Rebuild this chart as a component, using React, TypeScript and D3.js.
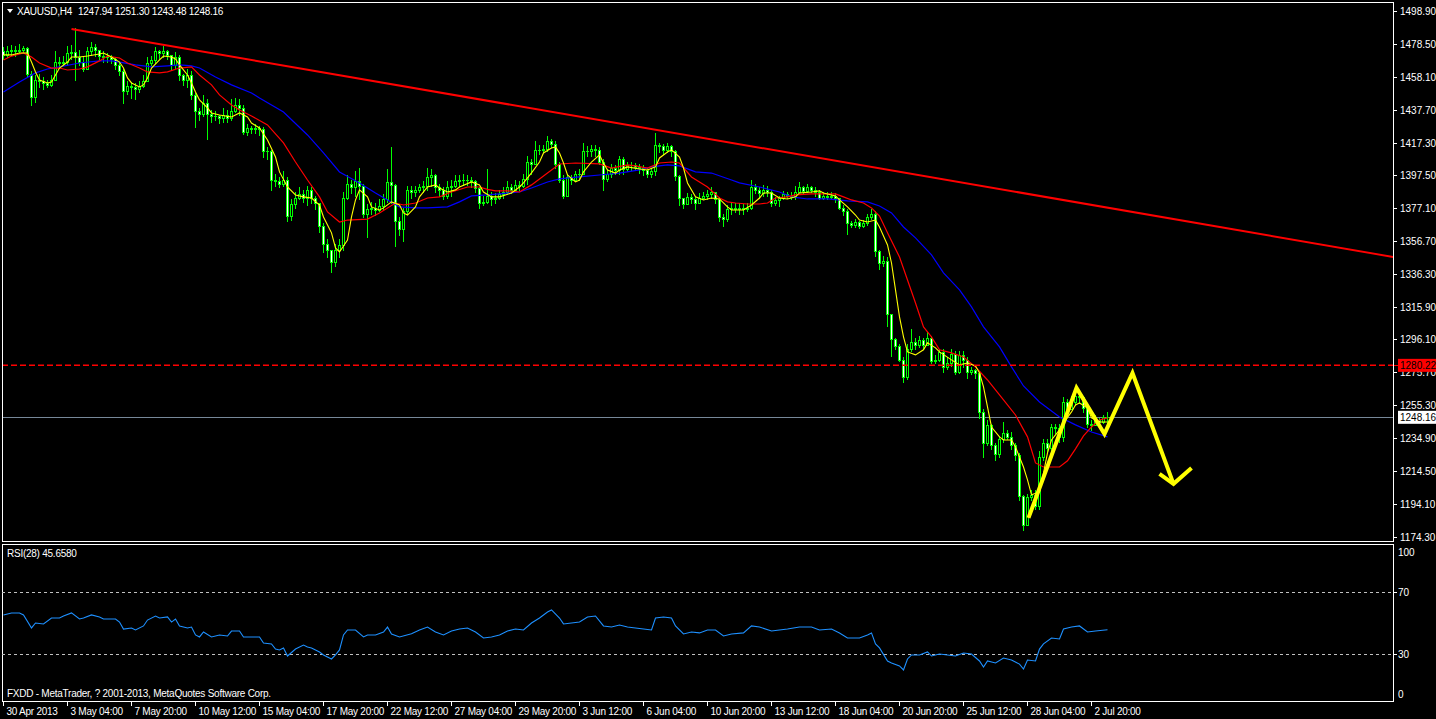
import React from "react";
import * as d3 from "d3";

const W = 1436;
const H = 719;

const symbolTitle = "XAUUSD,H4";
const ohlcTitle = ["1247.94", "1251.30", "1243.48", "1248.16"];
const firstOpen = 1473.6;

const closes = [
1471.7,1473.6,1474.8,1473.6,1474.8,1475.5,1460.0,1445.8,1456.3,1455.1,
1453.9,1453.2,1456.3,1467.4,1466.8,1467.4,1472.4,1473.0,1469.9,1467.4,
1462.5,1473.6,1476.1,1474.8,1471.1,1470.5,1469.9,1468.7,1465.0,1461.3,
1449.5,1452.6,1451.4,1450.2,1452.6,1455.7,1466.8,1468.1,1473.6,1472.4,
1473.6,1471.7,1465.0,1469.9,1458.8,1456.3,1459.4,1446.5,1436.6,1435.3,
1442.1,1435.3,1433.5,1434.1,1432.3,1434.7,1432.3,1436.6,1440.3,1439.0,
1424.2,1426.1,1425.5,1426.1,1425.5,1411.9,1411.9,1394.6,1393.4,1392.1,
1394.6,1371.8,1379.2,1383.5,1385.4,1383.5,1388.4,1383.5,1379.8,1366.2,
1354.5,1351.4,1344.0,1351.4,1353.9,1383.5,1392.1,1389.7,1393.4,1390.9,
1373.6,1376.1,1377.3,1375.5,1378.0,1382.3,1392.8,1391.5,1369.3,1363.8,
1374.9,1388.4,1386.6,1388.4,1389.7,1390.3,1395.9,1397.1,1389.7,1388.4,
1384.7,1389.7,1390.9,1393.4,1394.0,1394.6,1394.0,1393.4,1389.1,1379.8,
1381.0,1384.7,1382.3,1383.5,1385.4,1386.6,1389.7,1388.4,1391.5,1390.9,
1395.2,1405.7,1403.9,1413.1,1413.1,1413.7,1418.1,1416.8,1403.9,1394.6,
1384.7,1395.9,1394.0,1397.7,1398.3,1411.9,1412.5,1413.7,1413.1,1405.7,
1395.2,1397.7,1401.4,1400.2,1407.0,1400.8,1403.3,1403.3,1402.6,1401.4,
1400.2,1398.3,1399.6,1415.6,1415.0,1413.1,1415.0,1411.9,1396.5,1382.9,
1379.2,1384.1,1382.3,1379.8,1383.5,1384.7,1385.4,1386.6,1382.3,1371.2,
1370.5,1376.1,1377.3,1376.7,1377.3,1376.1,1377.3,1389.7,1388.4,1386.0,
1388.4,1387.2,1379.8,1381.7,1382.9,1385.4,1384.7,1384.1,1386.6,1389.7,
1387.8,1389.7,1388.4,1387.2,1383.5,1384.7,1384.1,1384.7,1382.9,1377.3,
1374.9,1367.5,1366.8,1368.1,1366.2,1367.5,1371.2,1373.6,1350.2,1342.8,
1344.6,1311.3,1295.9,1291.6,1283.5,1273.0,1289.7,1294.6,1292.2,1295.3,
1292.2,1297.1,1282.9,1283.5,1287.9,1278.6,1281.1,1287.2,1276.1,1286.0,
1283.5,1276.1,1276.8,1274.9,1251.4,1232.3,1242.8,1230.5,1225.5,1234.2,
1237.9,1236.0,1230.5,1224.9,1199.0,1181.7,1198.4,1200.2,1193.4,1223.1,
1231.7,1229.2,1241.6,1241.0,1235.4,1257.6,1252.7,1257.0,1261.3,1260.1,
1253.3,1244.0,1242.8,1245.9,1244.7,1247.94,1248.16
];

const highs = [
1476.1,1477.3,1477.9,1477.3,1478.5,1477.3,1476.1,1461.3,1458.8,1460.0,
1457.6,1456.3,1458.8,1473.6,1469.9,1471.1,1477.3,1477.9,1487.8,1474.8,
1469.9,1476.1,1479.2,1478.5,1474.8,1473.6,1472.4,1471.7,1469.3,1466.2,
1462.5,1455.1,1454.5,1453.9,1455.1,1458.8,1469.9,1471.1,1476.1,1474.8,
1476.7,1474.8,1471.7,1473.0,1471.7,1460.0,1462.5,1461.3,1447.7,1439.0,
1446.5,1444.0,1437.8,1436.6,1434.7,1439.0,1437.8,1444.0,1445.2,1444.0,
1440.3,1428.6,1427.9,1428.6,1427.9,1426.7,1414.4,1413.1,1397.7,1395.9,
1399.6,1395.9,1382.3,1387.2,1389.7,1388.4,1390.9,1389.7,1384.7,1379.8,
1367.5,1357.6,1351.4,1354.5,1357.6,1387.2,1397.1,1394.6,1399.6,1402.0,
1392.1,1379.2,1381.0,1379.8,1382.3,1385.4,1400.8,1414.4,1392.1,1371.2,
1377.3,1390.9,1390.3,1390.9,1392.1,1393.4,1402.0,1400.8,1398.3,1392.1,
1389.7,1393.4,1394.6,1397.1,1397.1,1397.7,1397.1,1395.9,1394.6,1389.7,
1384.7,1400.8,1387.2,1386.0,1388.4,1389.7,1393.4,1392.1,1394.6,1393.4,
1397.7,1409.4,1407.0,1418.1,1415.6,1416.2,1421.2,1419.3,1418.1,1405.1,
1397.1,1397.7,1397.1,1399.6,1400.8,1417.4,1415.0,1416.2,1415.6,1414.4,
1407.0,1400.8,1403.9,1403.3,1409.4,1408.8,1405.1,1405.7,1404.5,1403.9,
1403.3,1402.0,1402.0,1423.6,1417.4,1416.8,1417.4,1415.6,1413.1,1397.1,
1383.5,1386.0,1385.4,1384.1,1386.0,1387.2,1388.4,1389.7,1387.2,1384.1,
1373.6,1378.6,1379.8,1379.8,1380.4,1379.2,1379.8,1394.6,1392.1,1389.7,
1391.5,1390.9,1388.4,1384.1,1384.7,1387.8,1387.2,1386.6,1390.9,1392.8,
1390.9,1392.1,1390.9,1389.7,1388.4,1386.6,1386.6,1386.6,1386.0,1383.5,
1378.6,1376.1,1369.3,1370.5,1369.3,1369.9,1373.6,1376.1,1374.9,1351.4,
1347.7,1346.5,1311.9,1297.1,1292.8,1284.8,1292.8,1302.1,1297.1,1298.3,
1297.1,1300.8,1298.3,1286.0,1290.3,1289.7,1284.8,1289.7,1288.5,1288.5,
1288.5,1284.8,1278.6,1277.4,1276.1,1252.7,1246.5,1244.0,1231.7,1236.6,
1244.7,1240.3,1238.5,1231.7,1226.1,1200.2,1200.8,1203.3,1203.3,1226.8,
1234.2,1234.2,1244.0,1244.0,1244.0,1260.1,1258.9,1260.7,1263.8,1263.8,
1261.3,1255.2,1246.5,1249.0,1247.7,1249.0,1251.30
];

const lows = [
1468.7,1470.5,1471.7,1471.1,1472.4,1473.0,1457.6,1440.3,1442.7,1451.4,
1450.2,1451.4,1452.6,1456.3,1463.7,1465.0,1465.6,1468.7,1456.3,1465.0,
1461.3,1463.7,1471.7,1471.1,1468.7,1467.4,1467.4,1466.2,1462.5,1458.8,
1442.1,1447.1,1445.2,1444.0,1448.9,1451.4,1455.1,1465.0,1466.2,1468.7,
1469.9,1468.7,1462.5,1463.7,1456.3,1453.2,1451.4,1444.0,1426.7,1431.6,
1434.1,1419.3,1430.4,1431.6,1429.2,1430.4,1429.8,1431.6,1436.0,1434.7,
1422.4,1421.8,1423.0,1423.6,1421.8,1408.2,1407.0,1388.4,1390.3,1389.7,
1390.3,1368.7,1369.9,1377.3,1382.3,1381.0,1378.6,1379.8,1376.1,1362.5,
1349.6,1346.5,1337.8,1341.5,1346.5,1351.4,1382.3,1386.0,1384.7,1382.3,
1371.2,1359.4,1373.6,1372.4,1374.9,1376.1,1381.0,1379.8,1353.3,1360.1,
1356.4,1373.6,1383.5,1384.7,1386.6,1387.2,1388.4,1390.9,1387.2,1384.7,
1382.3,1383.5,1384.7,1389.7,1390.9,1391.5,1391.5,1389.7,1387.2,1377.3,
1378.6,1380.4,1378.6,1379.8,1382.3,1383.5,1385.4,1386.0,1388.4,1388.4,
1389.7,1392.1,1398.3,1405.1,1410.6,1411.3,1411.9,1414.4,1402.0,1392.8,
1383.5,1388.4,1392.1,1393.4,1394.6,1400.8,1409.4,1409.4,1409.4,1403.9,
1388.4,1393.4,1395.9,1398.3,1398.3,1398.3,1399.6,1400.2,1400.2,1398.9,
1397.1,1395.9,1395.9,1397.1,1411.3,1410.6,1411.3,1409.4,1394.6,1378.6,
1377.3,1379.2,1379.8,1376.7,1380.4,1382.3,1382.3,1383.5,1379.8,1368.7,
1366.2,1368.7,1373.6,1374.3,1373.6,1373.6,1374.9,1376.1,1386.0,1383.5,
1384.7,1384.7,1378.0,1378.6,1378.0,1382.3,1382.9,1382.3,1382.3,1386.6,
1386.0,1387.2,1386.6,1384.7,1382.3,1382.3,1382.3,1382.9,1381.0,1376.1,
1373.0,1360.7,1365.0,1365.6,1364.4,1365.0,1366.8,1370.5,1347.7,1339.1,
1341.0,1303.9,1285.4,1289.7,1282.3,1269.4,1271.2,1288.5,1289.7,1291.0,
1290.3,1294.6,1281.1,1281.1,1282.3,1276.1,1277.4,1279.8,1274.3,1274.9,
1278.6,1272.4,1274.3,1272.4,1247.7,1223.1,1230.5,1228.0,1221.8,1223.1,
1232.9,1234.2,1228.0,1221.8,1197.1,1178.6,1181.1,1197.1,1191.0,1191.0,
1221.8,1226.8,1226.8,1237.9,1232.9,1233.5,1250.2,1252.7,1255.2,1256.4,
1251.4,1241.6,1240.3,1242.8,1241.6,1244.1,1243.48
];

// moving averages: [bar index, price]
const maFast: [number, number][] = [
[0,1471.8],[2,1471.8],[4,1473.0],[6,1473.0],[7,1467.4],[8,1461.3],[9,1456.3],[11,1454.5],[12,1455.1],[13,1459.4],
[14,1463.7],[16,1467.4],[17,1470.5],[19,1470.5],[21,1471.1],[24,1472.4],[25,1473.0],[27,1470.5],[29,1467.4],[30,1463.7],
[31,1457.6],[32,1454.5],[34,1452.0],[35,1453.3],[36,1457.6],[37,1463.7],[39,1468.7],[40,1471.1],[42,1470.5],[43,1469.3],
[44,1465.6],[46,1459.4],[47,1454.5],[48,1448.9],[49,1444.0],[51,1439.1],[52,1436.0],[54,1434.7],[57,1433.5],[59,1436.0],
[61,1433.5],[62,1429.8],[64,1426.7],[66,1419.3],[68,1408.8],[69,1399.6],[71,1390.3],[73,1385.4],[75,1384.2],[77,1383.5],
[79,1379.2],[80,1371.8],[82,1362.0],[83,1352.7],[84,1350.2],[86,1357.6],[87,1371.8],[88,1382.3],[89,1388.5],[91,1384.2],
[92,1378.0],[94,1376.1],[95,1377.4],[97,1381.1],[99,1379.2],[100,1374.3],[101,1373.0],[103,1378.0],[104,1384.2],[106,1390.3],
[108,1391.6],[109,1389.7],[111,1387.2],[113,1388.5],[114,1390.3],[117,1393.4],[119,1391.6],[120,1387.2],[122,1384.2],[124,1384.2],
[127,1386.6],[129,1390.3],[130,1392.8],[132,1399.0],[134,1405.7],[135,1411.3],[137,1414.4],[138,1415.0],[139,1411.3],[140,1405.1],
[141,1397.7],[143,1393.4],[144,1394.6],[145,1399.6],[147,1405.7],[149,1410.1],[150,1405.1],[151,1400.8],[153,1398.9],[154,1400.8],
[156,1402.7],[159,1401.4],[161,1400.8],[163,1402.7],[164,1408.2],[166,1411.9],[167,1413.2],[169,1408.8],[170,1402.0],[171,1392.8],
[173,1384.2],[175,1382.3],[177,1383.5],[179,1382.9],[181,1378.0],[182,1376.1],[185,1376.1],[187,1379.2],[189,1383.5],[190,1386.6],
[192,1386.6],[194,1383.5],[196,1382.9],[198,1384.2],[199,1386.6],[202,1387.2],[204,1387.9],[205,1386.6],[208,1384.8],[209,1382.3],
[211,1378.0],[213,1373.0],[214,1369.9],[216,1368.7],[218,1369.9],[219,1365.6],[221,1354.5],[222,1343.4],[223,1326.8],[224,1310.1],
[225,1297.8],[226,1288.5],[228,1286.7],[230,1289.8],[231,1294.1],[233,1291.0],[234,1288.5],[237,1283.6],[239,1280.5],[241,1281.7],
[243,1279.9],[244,1275.6],[245,1266.9],[246,1254.6],[247,1242.2],[249,1236.1],[250,1234.2],[252,1234.2],[253,1229.9],[255,1217.5],
[256,1209.5],[257,1200.3],[259,1202.1],[260,1213.8],[261,1226.2],[262,1234.2],[264,1240.4],[265,1244.7],[267,1251.5],[268,1255.8],
[269,1257.0],[271,1253.9],[272,1247.8],[274,1245.3],[276,1245.3]
];

const maMid: [number, number][] = [
[0,1468.7],[2,1471.1],[5,1473.0],[7,1470.5],[9,1466.8],[12,1463.7],[14,1463.7],[16,1462.5],[19,1463.1],[21,1464.4],
[24,1468.1],[26,1471.1],[29,1469.9],[31,1466.8],[34,1463.7],[36,1461.3],[39,1460.7],[41,1461.3],[44,1463.7],[47,1464.4],
[49,1459.4],[52,1453.3],[54,1447.1],[57,1440.9],[59,1437.8],[62,1434.1],[66,1428.6],[70,1417.5],[73,1405.7],[76,1394.6],
[79,1384.2],[81,1374.9],[84,1368.7],[86,1369.9],[91,1370.5],[94,1374.3],[98,1380.4],[100,1379.2],[103,1380.4],[106,1383.5],
[109,1384.2],[112,1387.2],[116,1390.3],[119,1390.3],[121,1388.8],[123,1387.9],[126,1387.9],[129,1387.2],[132,1391.6],[136,1398.9],
[139,1404.5],[143,1405.1],[149,1404.5],[152,1402.0],[156,1403.9],[158,1403.3],[161,1402.0],[164,1405.1],[167,1405.7],[169,1405.1],
[172,1396.5],[176,1390.3],[179,1383.5],[181,1381.1],[183,1380.4],[186,1379.8],[189,1379.8],[191,1380.4],[193,1383.5],[196,1384.2],
[198,1385.4],[202,1386.0],[208,1386.0],[210,1384.2],[212,1382.3],[215,1380.4],[217,1377.4],[219,1372.4],[221,1362.0],[224,1347.1],
[226,1332.9],[228,1318.7],[230,1303.9],[232,1297.8],[234,1289.8],[237,1287.9],[240,1285.4],[243,1279.3],[246,1271.2],[250,1258.9],
[253,1249.6],[256,1236.1],[258,1220.0],[260,1217.5],[264,1217.5],[266,1221.3],[268,1228.7],[270,1236.7],[272,1242.2],[274,1246.5],
[276,1247.8]
];

const maSlow: [number, number][] = [
[0,1448.9],[4,1455.1],[8,1460.7],[11,1463.1],[14,1464.4],[19,1466.8],[24,1468.1],[27,1468.1],[29,1467.4],[33,1465.6],
[37,1464.4],[41,1465.0],[44,1465.6],[47,1465.0],[49,1463.7],[53,1458.2],[57,1453.3],[62,1448.3],[64,1445.2],[70,1436.6],
[76,1422.4],[80,1411.3],[84,1399.6],[89,1392.8],[93,1386.6],[96,1382.3],[99,1378.0],[103,1377.4],[106,1377.4],[111,1378.0],
[114,1381.1],[117,1384.8],[121,1385.4],[124,1386.0],[129,1387.2],[132,1389.7],[136,1393.4],[139,1395.3],[144,1396.5],[149,1397.7],
[154,1398.9],[159,1400.8],[162,1402.7],[166,1403.9],[169,1403.3],[173,1399.6],[177,1398.9],[182,1394.6],[184,1392.8],[189,1390.3],
[194,1387.2],[197,1384.2],[201,1382.9],[206,1382.9],[211,1381.7],[216,1381.1],[219,1378.6],[222,1374.3],[225,1365.6],[228,1358.9],
[232,1348.4],[235,1337.3],[239,1326.8],[242,1316.3],[245,1304.0],[249,1291.6],[252,1279.3],[255,1267.5],[259,1257.6],[264,1248.4],
[268,1243.5],[272,1239.1],[276,1236.1]
];

const rsiPoints: [number, number][] = [
[0,55.2],[2,56.5],[4,56.5],[5,55.2],[7,46.8],[8,50.0],[10,49.4],[12,53.2],[14,53.2],[15,54.5],
[17,56.5],[19,52.6],[20,53.2],[22,55.2],[24,53.9],[25,52.6],[28,52.6],[29,50.6],[30,46.1],[32,46.8],
[33,45.5],[35,48.1],[36,51.9],[38,54.5],[39,53.2],[41,53.9],[42,50.6],[43,52.6],[44,48.1],[46,46.8],
[47,47.4],[48,42.3],[49,41.0],[50,44.2],[52,41.0],[54,42.3],[56,41.6],[57,44.8],[59,44.8],[60,41.0],
[61,41.0],[64,41.0],[65,37.1],[67,36.5],[68,33.2],[69,32.6],[70,33.9],[71,28.7],[73,33.2],[75,35.8],
[76,34.5],[77,33.9],[79,31.3],[80,29.4],[82,26.8],[83,29.4],[84,32.6],[85,42.3],[86,45.5],[88,45.5],
[90,41.0],[91,42.3],[93,42.3],[95,44.2],[96,47.4],[97,42.9],[99,41.0],[102,43.0],[104,45.5],[106,47.4],
[108,44.2],[110,42.3],[112,44.8],[114,46.1],[116,46.8],[118,44.2],[120,40.3],[122,41.0],[124,42.3],[126,44.8],
[128,46.1],[130,45.5],[132,50.0],[134,53.2],[136,57.1],[137,58.4],[139,53.2],[140,49.4],[142,50.0],[144,50.6],
[146,53.9],[148,54.5],[150,48.1],[152,47.4],[154,48.7],[156,47.4],[158,46.8],[160,46.1],[162,45.5],[163,53.2],
[165,53.9],[167,53.2],[168,48.1],[170,42.9],[172,44.2],[174,43.6],[176,45.5],[178,45.5],[180,41.6],[182,42.9],
[185,43.6],[187,48.1],[189,47.4],[192,44.8],[194,45.5],[196,46.1],[199,47.4],[202,47.4],[204,45.5],[207,46.1],
[209,43.6],[211,40.3],[214,40.3],[216,42.3],[217,43.6],[218,36.5],[219,33.9],[221,25.5],[222,24.2],[224,22.3],
[225,19.7],[226,26.8],[227,29.4],[229,29.4],[231,31.3],[232,28.7],[234,30.0],[236,29.4],[238,28.7],[240,30.6],
[242,30.0],[244,25.5],[245,21.6],[246,25.5],[248,24.2],[250,27.4],[252,26.1],[254,23.5],[255,20.3],[256,26.1],
[258,25.5],[259,33.2],[260,36.5],[262,40.3],[264,39.7],[265,46.1],[267,47.4],[269,48.1],[271,44.2],[273,44.8],
[276,45.66]
];

const priceTicks = [1498.9, 1478.5, 1458.1, 1437.7, 1417.3, 1397.5, 1377.1, 1356.7, 1336.3, 1315.9, 1296.1, 1275.7, 1255.3, 1234.9, 1214.5, 1194.1, 1174.3];
const timeLabels = ["30 Apr 2013", "3 May 04:00", "7 May 20:00", "10 May 12:00", "15 May 04:00", "17 May 20:00", "22 May 12:00", "27 May 04:00", "29 May 20:00", "3 Jun 12:00", "6 Jun 04:00", "10 Jun 20:00", "13 Jun 12:00", "18 Jun 04:00", "20 Jun 20:00", "25 Jun 12:00", "28 Jun 04:00", "2 Jul 20:00"];
const barsPerLabel = 16;
const rsiLevels = [70, 30];
const rsiAxisLabels = [100, 70, 30, 0];
const rsiTitle = "RSI(28) 45.6580";
const footer = "FXDD - MetaTrader, ? 2001-2013, MetaQuotes Software Corp.";

const trendLine: [number, number][] = [[17, 1487.8], [347.5, 1347.1]];
const alertLevel = 1280.22;
const bidLevel = 1248.16;
const forecastPath: [number, number][] = [[256.25, 1186.1], [268.25, 1266.3], [275.25, 1237.9], [282.25, 1275.5], [292.5, 1207.1]];
const forecastArrow: [number, number][] = [[289, 1213.2], [292.5, 1207.1], [297, 1216.9]];

const FONT = "'Liberation Sans',Arial,sans-serif";
const FS = 10;
const LS = -0.25;
const LIME = "#00ff00";
const WHITE = "#ffffff";

export default function App() {
  const left = 2;
  const axisX = 1393;
  const mainTop = 2;
  const mainBottom = 541;
  const rsiTop = 544;
  const rsiBottom = 701;

  const x = d3.scaleLinear().domain([0, 276]).range([3.5, 1107.5]);
  const y = d3.scaleLinear().domain([1174.3, 1498.9]).range([537, 11]);
  const yR = d3.scaleLinear().domain([0, 100]).range([700.5, 545.5]);
  const snap = (v: number) => Math.round(v - 0.5) + 0.5;

  const line = d3.line<[number, number]>().x((d) => x(d[0])).y((d) => y(d[1]));
  const rsiLine = d3.line<[number, number]>().x((d) => x(d[0])).y((d) => yR(d[1]));

  const candles = closes.map((c, i) => {
    const o = i === 0 ? firstOpen : closes[i - 1];
    const hi = Math.max(highs[i], o, c);
    const lo = Math.min(lows[i], o, c);
    const cx = x(i);
    const top = snap(y(Math.max(o, c)));
    const bot = snap(y(Math.min(o, c)));
    const bull = c >= o;
    return (
      <g key={i}>
        <line x1={cx} x2={cx} y1={snap(y(hi)) - 0.5} y2={snap(y(lo)) + 0.5} stroke={LIME} strokeWidth={1} />
        {bot - top < 1 ? (
          <line x1={cx - 1.5} x2={cx + 1.5} y1={top} y2={top} stroke={LIME} strokeWidth={1} />
        ) : (
          <rect x={cx - 1} y={top} width={2} height={bot - top} fill={bull ? "#000000" : "#ffffff"} stroke={LIME} strokeWidth={1} />
        )}
      </g>
    );
  });

  const alertY = Math.round(y(alertLevel));
  const bidY = snap(y(bidLevel));
  const dashStarts = d3.range(left, axisX, 9);

  return (
    <svg width={W} height={H} style={{ position: "fixed", left: 0, top: 0, background: "#000" }} fontFamily={FONT}>
      <defs>
        <clipPath id="mainClip">
          <rect x={left} y={mainTop} width={axisX - left} height={mainBottom - mainTop} />
        </clipPath>
        <clipPath id="rsiClip">
          <rect x={left} y={rsiTop} width={axisX - left} height={rsiBottom - rsiTop} />
        </clipPath>
      </defs>
      <rect x={0} y={0} width={W} height={H} fill="#000" />

      {/* main chart */}
      <g clipPath="url(#mainClip)">
        <line x1={left} x2={axisX} y1={bidY} y2={bidY} stroke="#778899" strokeWidth={1} shapeRendering="crispEdges" />
        <g shapeRendering="crispEdges">{candles}</g>
        <path d={line(maSlow) || ""} fill="none" stroke="#0000ff" strokeWidth={1.2} />
        <path d={line(maMid) || ""} fill="none" stroke="#ff0000" strokeWidth={1.2} />
        <path d={line(maFast) || ""} fill="none" stroke="#ffff00" strokeWidth={1.1} />
        <path d={line(trendLine) || ""} fill="none" stroke="#ff0000" strokeWidth={2} />
        <g fill="#ff0000">
          {dashStarts.map((dx) => (
            <rect key={dx} x={dx} y={alertY - 0.5} width={6} height={1.5} />
          ))}
        </g>
        <path d={line(forecastPath) || ""} fill="none" stroke="#ffff00" strokeWidth={4} strokeLinejoin="miter" />
        <path d={line(forecastArrow) || ""} fill="none" stroke="#ffff00" strokeWidth={4} strokeLinejoin="miter" />
      </g>

      {/* title */}
      <path d="M7,9 L13,9 L10,13 Z" fill={WHITE} />
      <text x={17} y={15} fontSize={FS} letterSpacing={LS} fill={WHITE}>{symbolTitle}</text>
      <text x={78} y={15} fontSize={FS} letterSpacing={LS} fill={WHITE}>{ohlcTitle.join(" ")}</text>

      {/* frames */}
      <g stroke={WHITE} strokeWidth={1} shapeRendering="crispEdges" fill="none">
        <rect x={left + 0.5} y={mainTop + 0.5} width={axisX - left} height={mainBottom - mainTop} />
        <rect x={left + 0.5} y={rsiTop + 0.5} width={axisX - left} height={rsiBottom - rsiTop} />
      </g>

      {/* price axis */}
      <g fontSize={FS} fill={WHITE}>
        {priceTicks.map((p) => (
          <g key={p}>
            <line x1={axisX + 0.5} x2={axisX + 4} y1={snap(y(p))} y2={snap(y(p))} stroke={WHITE} shapeRendering="crispEdges" />
            <text x={1400} y={y(p)} dy="0.35em">{p.toFixed(2)}</text>
          </g>
        ))}
      </g>
      <line x1={axisX + 1} x2={axisX + 5} y1={alertY} y2={alertY} stroke="#ff0000" shapeRendering="crispEdges" />
      <rect x={axisX + 5} y={y(alertLevel) - 6.5} width={W - axisX - 5} height={13} fill="#ff0000" />
      <text x={1400} y={y(alertLevel)} dy="0.35em" fontSize={FS} fill="#000">{alertLevel.toFixed(2)}</text>
      <rect x={axisX + 5} y={y(bidLevel) - 6.5} width={W - axisX - 5} height={13} fill="#ffffff" />
      <text x={1400} y={y(bidLevel)} dy="0.35em" fontSize={FS} fill="#000">{bidLevel.toFixed(2)}</text>

      {/* RSI panel */}
      <g clipPath="url(#rsiClip)">
        {rsiLevels.map((lv) => (
          <line key={lv} x1={left} x2={axisX} y1={snap(yR(lv))} y2={snap(yR(lv))} stroke="#c0c0c0" strokeDasharray="3,3" shapeRendering="crispEdges" />
        ))}
        <path d={rsiLine(rsiPoints) || ""} fill="none" stroke="#1e90ff" strokeWidth={1.1} />
      </g>
      <text x={7} y={557} fontSize={FS} letterSpacing={LS} fill={WHITE}>{rsiTitle}</text>
      <text x={7} y={697} fontSize={FS} letterSpacing={LS} fill={WHITE}>{footer}</text>
      <g fontSize={FS} fill={WHITE}>
        {rsiAxisLabels.map((v) => {
          const yy = v === 100 ? yR(v) + 6.5 : v === 0 ? yR(v) - 6 : yR(v);
          return (
            <g key={v}>
              {(v === 70 || v === 30) && (
                <line x1={axisX + 0.5} x2={axisX + 4} y1={snap(yR(v))} y2={snap(yR(v))} stroke={WHITE} shapeRendering="crispEdges" />
              )}
              <text x={1398} y={yy} dy="0.35em">{v}</text>
            </g>
          );
        })}
      </g>

      {/* time axis */}
      <g fontSize={FS} letterSpacing={LS} fill={WHITE}>
        {timeLabels.map((t, k) => {
          const tx = x(k * barsPerLabel);
          return (
            <g key={t}>
              <line x1={tx} x2={tx} y1={rsiBottom} y2={rsiBottom + 5} stroke={WHITE} shapeRendering="crispEdges" />
              <text x={tx + 3} y={715}>{t}</text>
            </g>
          );
        })}
      </g>
    </svg>
  );
}
